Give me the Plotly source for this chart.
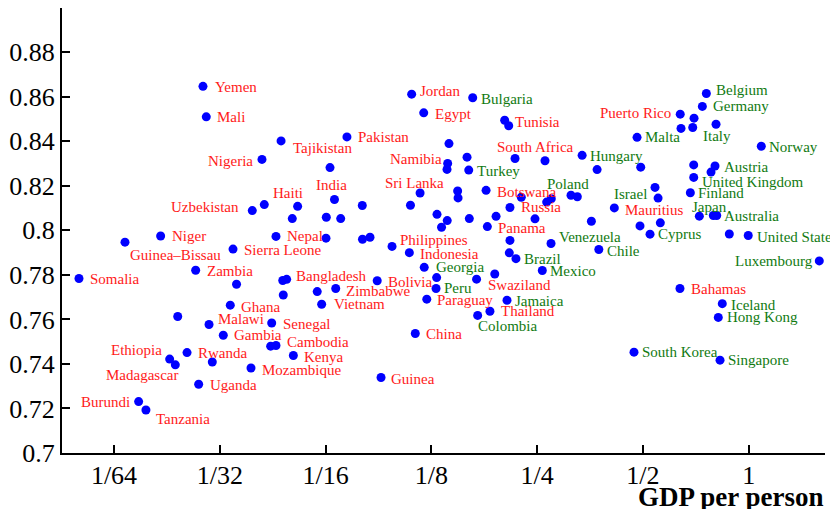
import math
import plotly.graph_objects as go

country = [
    "Somalia", "Guinea–Bissau", "Niger", "Nepal", "Sierra Leone", "Zambia", "", "", "Bangladesh", "",
    "Ghana", "", "Malawi", "Senegal", "Gambia", "", "Cambodia", "Kenya", "Mozambique", "Ethiopia",
    "Madagascar", "Rwanda", "", "Uganda", "Burundi", "Tanzania", "Yemen", "Mali", "Tajikistan", "Nigeria",
    "Pakistan", "", "India", "Haiti", "Uzbekistan", "", "", "", "", "",
    "", "", "", "Jordan", "Bulgaria", "Egypt", "Tunisia", "", "", "Namibia",
    "", "", "Turkey", "South Africa", "", "Sri Lanka", "", "", "Botswana", "",
    "", "", "Russia", "", "", "", "", "", "", "",
    "Panama", "Philippines", "Indonesia", "", "", "Brazil", "Venezuela", "Mexico", "Georgia", "",
    "Peru", "Bolivia", "Zimbabwe", "", "Vietnam", "Paraguay", "Swaziland", "", "Jamaica", "Thailand",
    "Colombia", "China", "Guinea", "Belgium", "Germany", "Puerto Rico", "", "", "", "Italy",
    "Malta", "Norway", "Hungary", "", "", "", "Austria", "", "United Kingdom", "Finland",
    "Israel", "", "Poland", "", "Mauritius", "", "", "", "Cyprus", "Japan",
    "", "Australia", "", "United States", "Chile", "Luxembourg", "Bahamas", "Iceland", "Hong Kong", "South Korea",
    "Singapore",
]

gdp_per_person = [
    0.01242, 0.01679, 0.02121, 0.04516, 0.03408, 0.02668, 0.03487, 0.04721, 0.04843, 0.04737,
    0.03347, 0.02372, 0.02912, 0.04391, 0.03197, 0.04361, 0.04516, 0.0506, 0.03834, 0.0225,
    0.02335, 0.02521, 0.02975, 0.02721, 0.01836, 0.01926, 0.02799, 0.0286, 0.04669, 0.0412,
    0.07189, 0.06434, 0.06625, 0.05204, 0.03866, 0.04183, 0.05025, 0.0628, 0.06901, 0.07949,
    0.06267, 0.0796, 0.08362, 0.10986, 0.1639, 0.1189, 0.2021, 0.2075, 0.1403, 0.1391,
    0.1385, 0.1579, 0.1597, 0.2163, 0.2632, 0.1161, 0.1485, 0.1489, 0.1789, 0.2253,
    0.2661, 0.2743, 0.2092, 0.109, 0.1297, 0.1387, 0.1336, 0.1603, 0.191, 0.2465,
    0.1804, 0.0966, 0.1082, 0.2092, 0.2083, 0.2176, 0.2738, 0.2586, 0.1193, 0.1294,
    0.1289, 0.08766, 0.0668, 0.05917, 0.06092, 0.1213, 0.1681, 0.1894, 0.2052, 0.1835,
    0.1693, 0.1125, 0.08988, 0.7576, 0.738, 0.6385, 0.6988, 0.8072, 0.6417, 0.6929,
    0.4811, 1.086, 0.3357, 0.3703, 0.4928, 0.6974, 0.8019, 0.7812, 0.6974, 0.6822,
    0.5412, 0.5522, 0.3121, 0.3253, 0.4146, 0.3567, 0.4905, 0.5604, 0.5238, 0.7236,
    0.7931, 0.8109, 0.8806, 0.997, 0.3745, 1.588, 0.6373, 0.841, 0.8193, 0.4716,
    0.8286,
]

value = [
    0.7784, 0.7947, 0.7975, 0.7973, 0.7916, 0.7821, 0.7758, 0.7775, 0.7780, 0.7710,
    0.7664, 0.7613, 0.7577, 0.7584, 0.7529, 0.7480, 0.7483, 0.7438, 0.7382, 0.7422,
    0.7396, 0.7451, 0.7409, 0.7309, 0.7231, 0.7193, 0.8647, 0.8510, 0.8402, 0.8319,
    0.8420, 0.8282, 0.8139, 0.8108, 0.8089, 0.8116, 0.8053, 0.8059, 0.8053, 0.8112,
    0.7965, 0.7960, 0.7969, 0.8612, 0.8596, 0.8528, 0.8495, 0.8470, 0.8390, 0.8301,
    0.8274, 0.8329, 0.8271, 0.8323, 0.8313, 0.8168, 0.8177, 0.8146, 0.8180, 0.8149,
    0.8127, 0.8142, 0.8103, 0.8113, 0.8072, 0.8044, 0.8014, 0.8053, 0.8063, 0.8052,
    0.8017, 0.7928, 0.7900, 0.7955, 0.7899, 0.7873, 0.7941, 0.7820, 0.7834, 0.7788,
    0.7739, 0.7774, 0.7739, 0.7725, 0.7668, 0.7691, 0.7781, 0.7804, 0.7686, 0.7637,
    0.7618, 0.7537, 0.7339, 0.8615, 0.8557, 0.8522, 0.8504, 0.8477, 0.8458, 0.8462,
    0.8418, 0.8378, 0.8337, 0.8273, 0.8284, 0.8294, 0.8289, 0.8262, 0.8238, 0.8169,
    0.8193, 0.8145, 0.8158, 0.8151, 0.8101, 0.8041, 0.8020, 0.8034, 0.7983, 0.8064,
    0.8067, 0.8067, 0.7984, 0.7977, 0.7914, 0.7863, 0.7739, 0.7671, 0.7609, 0.7453,
    0.7417,
]

green_labels = {
    "Bulgaria", "Turkey", "Poland", "Hungary", "Malta", "Belgium", "Germany", "Italy", "Norway",
    "Austria", "United Kingdom", "Finland", "Israel", "Japan", "Australia", "Cyprus", "United States",
    "Venezuela", "Chile", "Luxembourg", "Iceland", "Hong Kong", "South Korea", "Singapore",
    "Georgia", "Peru", "Brazil", "Mexico", "Jamaica", "Colombia",
}

x_tickvals = [1/64, 1/32, 1/16, 1/8, 1/4, 1/2, 1]
x_ticktext = ["1/64", "1/32", "1/16", "1/8", "1/4", "1/2", "1"]
y_tickvals = [0.70, 0.72, 0.74, 0.76, 0.78, 0.80, 0.82, 0.84, 0.86, 0.88]
y_ticktext = ["0.7", "0.72", "0.74", "0.76", "0.78", "0.8", "0.82", "0.84", "0.86", "0.88"]

# label placement: (anchor, dx px right, dy px down)
placement = {
    "Somalia": ("left", 10, 1), "Guinea–Bissau": ("left", 4, 13), "Niger": ("left", 10, 0),
    "Nepal": ("left", 10, 0), "Sierra Leone": ("left", 10, 1), "Zambia": ("left", 10, 1),
    "Bangladesh": ("left", 8, -3), "Ghana": ("left", 10, 2), "Malawi": ("left", 8, -6),
    "Senegal": ("left", 10, 1), "Gambia": ("left", 10, 0), "Cambodia": ("left", 10, -3),
    "Kenya": ("left", 10, 1), "Mozambique": ("left", 10, 2), "Ethiopia": ("right", -7, -9),
    "Madagascar": ("right", 4, 10), "Rwanda": ("left", 10, 0), "Uganda": ("left", 10, 1),
    "Burundi": ("right", -8, 0), "Tanzania": ("left", 9, 9), "Yemen": ("left", 11, 1),
    "Mali": ("left", 10, 0), "Tajikistan": ("left", 11, 7), "Nigeria": ("right", -8, 2),
    "Pakistan": ("left", 10, 0), "India": ("center", -3, -14), "Haiti": ("center", -10, -13),
    "Uzbekistan": ("right", -12, -4), "Jordan": ("left", 7, -3), "Bulgaria": ("left", 7, 1),
    "Egypt": ("left", 10, 1), "Tunisia": ("left", 9, 2), "Namibia": ("right", -5, -4),
    "Turkey": ("left", 7, 1), "South Africa": ("center", 20, -11), "Sri Lanka": ("center", -6, -10),
    "Botswana": ("left", 10, 2), "Russia": ("left", 10, 0), "Panama": ("left", 10, 1),
    "Philippines": ("left", 7, -6), "Indonesia": ("left", 10, 1), "Georgia": ("left", 11, 0),
    "Peru": ("left", 7, 0), "Bolivia": ("left", 10, 1), "Zimbabwe": ("left", 9, 3),
    "Vietnam": ("left", 11, 0), "Paraguay": ("left", 9, 1), "Swaziland": ("left", 10, 6),
    "Jamaica": ("left", 7, 1), "Thailand": ("left", 10, 0), "Colombia": ("left", -1, 11),
    "Brazil": ("left", 7, 0), "Mexico": ("left", 7, 1), "Venezuela": ("left", 7, -7),
    "Chile": ("left", 7, 1), "China": ("left", 10, 1), "Guinea": ("left", 9, 1),
    "Belgium": ("left", 9, -3), "Germany": ("left", 10, 0), "Puerto Rico": ("right", -8, -1),
    "Italy": ("left", 9, 8), "Malta": ("left", 7, 0), "Norway": ("left", 7, 1),
    "Hungary": ("left", 7, 1), "Austria": ("left", 8, 1), "United Kingdom": ("left", 7, 5),
    "Finland": ("left", 7, 0), "Israel": ("right", -7, 7), "Poland": ("center", -3, -11),
    "Mauritius": ("left", 10, 2), "Cyprus": ("left", 7, 0), "Japan": ("left", -8, -9),
    "Australia": ("left", 6, 1), "United States": ("left", 8, 1), "Luxembourg": ("right", -5, 0),
    "Bahamas": ("left", 10, 1), "Iceland": ("left", 8, 1), "Hong Kong": ("left", 8, 0),
    "South Korea": ("left", 7, 0), "Singapore": ("left", 7, 0),
}

SERIF = "Liberation Serif, Times New Roman, serif"

fig = go.Figure()
fig.add_trace(go.Scatter(
    x=gdp_per_person, y=value, mode="markers",
    marker=dict(size=9, color="#0000ff", line=dict(width=0)),
    text=country, hoverinfo="text", showlegend=False, cliponaxis=False,
))

annotations = []
for name, g, v in zip(country, gdp_per_person, value):
    if not name:
        continue
    anchor, dx, dy = placement[name]
    annotations.append(dict(
        x=math.log10(g), y=v, xref="x", yref="y", text=name, showarrow=False,
        xanchor=anchor, yanchor="middle", xshift=dx, yshift=-dy,
        font=dict(family=SERIF, size=15, color="#117a11" if name in green_labels else "#ff1a1a"),
        borderpad=0,
    ))

# page body adds an 8px offset; figure is sized and margined to compensate
annotations.append(dict(
    x=1, y=-0.0989, xref="paper", yref="paper", text="<b>GDP per person</b>", showarrow=False,
    xanchor="right", yanchor="middle", font=dict(family=SERIF, size=27, color="black"),
    borderpad=0,
))

fig.update_layout(
    width=830, height=501,
    margin=dict(l=54, r=13, t=0, b=56),
    paper_bgcolor="white", plot_bgcolor="white",
    annotations=annotations,
    xaxis=dict(
        type="log", range=[-1.9542, 0.2171], automargin=False,
        tickvals=x_tickvals, ticktext=x_ticktext,
        showline=True, linecolor="black", linewidth=2,
        ticks="inside", ticklen=8, tickwidth=2, tickcolor="black",
        showgrid=False, zeroline=False, ticklabelstandoff=-2,
        tickfont=dict(family=SERIF, size=26, color="black"),
    ),
    yaxis=dict(
        range=[0.7, 0.8999], automargin=False,
        tickvals=y_tickvals, ticktext=y_ticktext,
        showline=True, linecolor="black", linewidth=2,
        ticks="inside", ticklen=8, tickwidth=2, tickcolor="black",
        showgrid=False, zeroline=False,
        tickfont=dict(family=SERIF, size=26, color="black"),
    ),
)

fig.write_html("out.html")
